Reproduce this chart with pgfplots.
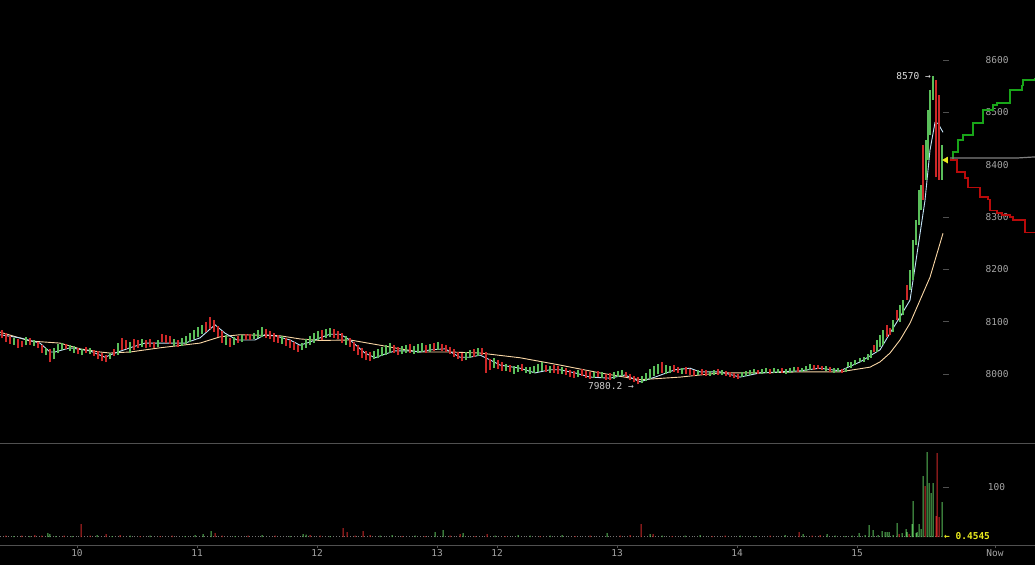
\documentclass[border=0pt]{standalone}
\usepackage{fontspec}
\setmainfont{DejaVu Sans Mono}
\usepackage{pgfplots}
\usepackage{pgfplotstable}
\pgfplotsset{compat=1.18}
\definecolor{cg}{RGB}{90,190,90}
\definecolor{cr}{RGB}{205,40,40}
\definecolor{mablue}{RGB}{195,228,248}
\definecolor{maorange}{RGB}{250,215,165}
\definecolor{dg}{RGB}{25,165,25}
\definecolor{dr}{RGB}{185,10,10}
\definecolor{axgray}{RGB}{80,80,80}
\definecolor{labgray}{RGB}{165,165,165}
\definecolor{yel}{RGB}{235,235,30}
\begin{document}
\pgfplotstableread{
x l h c
2 8068 8085 0
6 8062 8078 0
10 8058 8072 0
14 8055 8068 1
18 8050 8066 0
22 8052 8063 0
26 8055 8070 1
30 8056 8068 0
34 8054 8064 1
38 8050 8062 0
42 8040 8055 0
46 8036 8050 1
50 8022 8048 0
54 8028 8050 1
58 8040 8057 1
62 8045 8060 1
66 8047 8058 0
70 8044 8056 1
74 8040 8054 1
78 8038 8050 0
82 8036 8048 1
86 8040 8052 0
90 8038 8050 1
94 8034 8046 0
98 8028 8044 0
102 8024 8040 0
106 8022 8036 0
110 8028 8040 1
114 8035 8048 0
118 8036 8060 1
122 8045 8068 0
126 8048 8065 0
130 8040 8062 1
134 8046 8066 0
138 8050 8064 0
142 8052 8066 1
146 8050 8064 0
150 8052 8066 0
154 8050 8062 0
158 8052 8064 1
162 8062 8076 0
166 8060 8074 0
170 8058 8072 0
174 8054 8066 1
178 8052 8064 0
182 8054 8068 1
186 8058 8072 1
190 8062 8078 1
194 8066 8084 1
198 8070 8090 1
202 8076 8094 1
206 8080 8100 0
210 8086 8108 0
214 8080 8104 0
218 8070 8092 0
222 8060 8082 0
226 8056 8074 1
230 8052 8068 0
234 8056 8070 1
238 8060 8072 0
242 8062 8074 1
246 8064 8076 0
250 8064 8076 0
254 8066 8078 1
258 8068 8084 1
262 8070 8090 1
266 8068 8086 0
270 8066 8082 0
274 8062 8078 0
278 8060 8074 0
282 8058 8072 1
286 8054 8068 0
290 8050 8064 0
294 8046 8062 0
298 8042 8056 0
302 8046 8060 1
306 8050 8066 1
310 8056 8072 1
314 8060 8078 1
318 8064 8082 1
322 8064 8084 0
326 8068 8086 1
330 8070 8088 1
334 8068 8086 0
338 8066 8082 0
342 8060 8078 0
346 8056 8072 1
350 8052 8068 0
354 8044 8062 0
358 8036 8056 0
362 8030 8050 0
366 8026 8044 0
370 8024 8042 0
374 8028 8044 1
378 8030 8048 1
382 8034 8052 1
386 8036 8056 1
390 8040 8060 1
394 8040 8056 0
398 8036 8052 0
402 8038 8054 1
406 8040 8056 1
410 8040 8058 0
414 8038 8054 1
418 8040 8058 1
422 8042 8060 1
426 8040 8056 0
430 8042 8058 1
434 8044 8060 0
438 8046 8062 1
442 8044 8058 0
446 8042 8056 0
450 8038 8052 0
454 8032 8048 0
458 8028 8042 0
462 8024 8040 0
466 8026 8042 1
470 8030 8046 1
474 8032 8048 0
478 8034 8050 1
482 8036 8050 0
486 8002 8042 0
490 8008 8028 0
494 8012 8030 1
498 8010 8026 0
502 8006 8022 0
506 8006 8020 1
510 8004 8018 0
514 8000 8016 1
518 8004 8018 1
522 8006 8020 0
526 8002 8014 1
530 8000 8014 1
534 8002 8016 1
538 8004 8020 1
542 8006 8022 1
546 8004 8018 0
550 8002 8016 1
554 8002 8018 0
558 8000 8016 0
562 8000 8014 1
566 7998 8012 0
570 7994 8008 0
574 7992 8006 0
578 7994 8008 1
582 7996 8010 0
586 7992 8006 0
590 7990 8004 0
594 7992 8004 1
598 7994 8006 0
602 7992 8004 1
606 7988 8000 0
610 7988 8002 0
614 7990 8004 1
618 7994 8006 1
622 7996 8008 1
626 7994 8004 0
630 7988 8000 0
634 7984 7996 0
638 7980 7994 0
642 7982 7996 1
646 7986 8002 1
650 7990 8010 1
654 7996 8016 1
658 8000 8020 1
662 8002 8022 0
666 8000 8018 1
670 8002 8016 1
674 8004 8018 0
678 8002 8014 0
682 8000 8012 1
686 8000 8014 0
690 7998 8010 0
694 7996 8008 0
698 7998 8008 1
702 7998 8010 0
706 7996 8008 0
710 7996 8006 1
714 7998 8008 1
718 7998 8010 0
722 7998 8008 1
726 7996 8006 0
730 7994 8004 0
734 7992 8002 0
738 7990 8000 0
742 7994 8004 1
746 7996 8006 1
750 7998 8008 1
754 8000 8010 1
758 8000 8008 0
762 8000 8010 1
766 8002 8012 1
770 8000 8010 0
774 8002 8012 1
778 8002 8010 1
782 8002 8012 0
786 8000 8010 1
790 8002 8012 1
794 8004 8014 1
798 8004 8014 0
802 8004 8012 1
806 8006 8016 1
810 8008 8020 1
814 8008 8018 0
818 8010 8018 0
822 8008 8016 0
826 8006 8016 1
830 8004 8014 0
834 8002 8012 1
838 8004 8012 1
842 8002 8010 0
846 8004 8012 1
848 8013 8023 1
851 8011 8023 1
855 8017 8027 1
860 8023 8031 1
864 8023 8032 1
868 8027 8038 1
871 8031 8046 1
874 8042 8055 0
877 8042 8065 1
880 8052 8075 1
883 8055 8084 1
887 8071 8094 0
890 8075 8088 0
893 8080 8103 1
897 8103 8122 0
900 8099 8132 1
903 8113 8141 1
907 8141 8170 0
910 8161 8199 1
913 8180 8256 1
916 8247 8294 1
919 8285 8352 1
921 8313 8361 1
923 8333 8438 0
926 8371 8447 1
928 8409 8505 1
930 8457 8543 1
933 8524 8570 1
936 8376 8562 0
939 8371 8533 0
942 8371 8438 1
}\candles
\pgfplotstableread{
x v c
6 3 0
14 2 1
22 3 0
30 2 1
35 4 0
42 3 0
48 8 1
50 6 1
56 2 1
64 3 0
72 2 1
81 26 0
90 3 0
97 4 1
106 6 0
112 2 1
120 4 0
130 3 1
140 2 0
150 3 1
160 2 0
172 3 0
185 2 1
195 4 1
203 6 1
211 12 1
215 8 0
222 3 0
235 2 1
248 3 0
262 4 1
275 3 0
290 2 1
303 6 1
306 5 1
310 4 0
320 3 0
330 2 1
343 18 0
347 10 0
355 3 0
363 12 0
370 4 0
380 3 1
392 4 1
402 2 0
415 3 1
425 2 0
435 10 1
443 14 1
450 3 0
460 6 0
463 8 1
475 2 0
487 6 0
495 3 1
505 2 0
518 4 1
530 3 1
540 2 0
550 3 1
562 4 1
575 2 0
590 3 0
607 8 1
620 3 0
630 4 0
641 26 0
650 6 1
653 6 0
662 3 1
672 2 0
685 3 1
700 4 1
712 2 0
725 3 0
740 3 1
755 2 1
770 3 0
785 4 1
799 10 0
803 6 1
812 3 0
820 4 0
827 6 1
835 3 1
845 2 1
852 3 1
859 8 1
865 4 1
869 24 1
873 14 1
878 4 1
882 12 1
885 10 1
887 10 1
889 10 1
893 4 1
897 28 1
899 6 0
902 8 1
906 16 1
907 10 1
909 6 0
912 26 1
913 72 1
916 8 1
917 10 1
919 26 1
921 16 1
923 122 1
925 102 0
927 170 1
929 108 1
931 88 1
933 108 1
936 42 0
937 168 0
939 40 0
942 70 1
}\vol
\begin{tikzpicture}
\useasboundingbox (0,0) rectangle (1035pt,565pt);
\fill[black] (0,0) rectangle (1035pt,565pt);
\pgfplotsset{
  common/.style={
    scale only axis, width=1035pt, xmin=0, xmax=1035,
    axis x line=bottom, axis y line=right,
    x axis line style={-, draw=axgray, line width=0.8pt},
    y axis line style={draw=none},
    ytick style={draw=none},
    yticklabel style={anchor=center, xshift=-40pt, text=labgray, font=\fontsize{9.5}{11}\selectfont},
    xticklabel style={text=labgray, font=\fontsize{9.5}{11}\selectfont, yshift=2pt},
    /pgf/number format/assume math mode=true,
    /pgf/number format/1000 sep={},
    scaled y ticks=false,
  }
}
\begin{axis}[common, at={(0pt,122pt)}, anchor=south west, height=443pt,
  ymin=7868, ymax=8715, xtick=\empty, ytick={8000,8100,8200,8300,8400,8500,8600}]
\addplot[only marks, mark=-, mark size=3pt, mark options={draw=axgray, line width=0.8pt}]
  coordinates {(946,8000)(946,8100)(946,8200)(946,8300)(946,8500)(946,8600)};
\addplot[maorange, line width=0.9pt] coordinates {
(0,8080)(30,8063)(60,8059)(80,8048)(100,8042)(110,8040)(130,8042)(160,8050)(200,8059)
(220,8071)(240,8075)(280,8073)(300,8067)(320,8064)(350,8065)(380,8055)(400,8048)
(420,8042)(450,8042)(480,8040)(520,8031)(560,8017)(600,8002)(640,7989)(680,7994)
(720,8002)(760,8002)(800,8004)(840,8004)(870,8013)(880,8023)(890,8040)(900,8065)
(910,8097)(920,8141)(930,8185)(943,8269)};
\addplot[mablue, line width=0.9pt] coordinates {
(0,8075)(20,8069)(40,8059)(50,8042)(55,8042)(70,8050)(90,8044)(105,8032)(115,8040)
(130,8050)(145,8059)(160,8059)(185,8059)(200,8069)(215,8094)(225,8078)(237,8065)
(255,8065)(265,8075)(275,8073)(290,8065)(300,8055)(310,8061)(320,8069)(330,8076)
(340,8076)(350,8065)(365,8040)(375,8031)(385,8038)(395,8044)(410,8044)(420,8042)
(430,8046)(445,8048)(460,8032)(470,8032)(480,8036)(490,8027)(500,8017)(520,8011)
(535,8002)(550,8008)(560,8008)(575,8002)(590,7994)(610,7992)(625,7998)(640,7985)
(655,7994)(675,8008)(690,8011)(700,8004)(720,8004)(740,7994)(760,8002)(780,8004)
(800,8006)(820,8011)(840,8006)(860,8023)(880,8046)(890,8078)(900,8109)(910,8141)
(915,8204)(925,8332)(930,8428)(935,8481)(938,8479)(943,8462)};
\addplot[draw=none, restrict expr to domain={\thisrow{c}}{1:1},
  error bars/.cd, y dir=plus, y explicit, error mark=none,
  error bar style={draw=cg, solid, line width=1.15pt}]
  table[x=x, y=l, y error expr=\thisrow{h}-\thisrow{l}] \candles;
\addplot[draw=none, restrict expr to domain={\thisrow{c}}{0:0},
  error bars/.cd, y dir=plus, y explicit, error mark=none,
  error bar style={draw=cr, solid, line width=1.15pt}]
  table[x=x, y=l, y error expr=\thisrow{h}-\thisrow{l}] \candles;
\addplot[dg, line width=1.4pt, const plot] coordinates {
(950,8409)(953,8424)(958,8447)(963,8457)(973,8480)(983,8505)(993,8514)(997,8518)
(1010,8543)(1022,8552)(1023,8562)(1035,8566)};
\addplot[dr, line width=1.4pt, const plot] coordinates {
(950,8409)(957,8386)(965,8375)(968,8357)(980,8338)(988,8333)(990,8313)(997,8308)
(1002,8304)(1010,8300)(1013,8294)(1025,8271)(1035,8269)};
\addplot[gray, line width=1.2pt] coordinates {(950,8413)(1018,8413)(1035,8415)};
\addplot[only marks, mark=triangle*, mark size=3.5pt, mark options={rotate=90, fill=yel, draw=yel}]
  coordinates {(946,8409)};
\node[anchor=east, text=white!88!black, font=\fontsize{9.5}{11}\selectfont, inner sep=1pt]
  at (axis cs:932,8570) {8570 →};
\node[anchor=east, text=white!80!black, font=\fontsize{9.5}{11}\selectfont, inner sep=1pt]
  at (axis cs:635,7977) {7980.2 →};
\end{axis}
\begin{axis}[common, at={(0pt,20pt)}, anchor=south west, height=102pt,
  ymin=-16, ymax=188, ytick={100},
  xtick={77,197,317,437,497,617,737,857,995},
  xticklabels={10,11,12,13,12,13,14,15,Now},
  xtick align=outside, major tick length=3pt,
  xtick style={draw=axgray, line width=0.8pt}]
\addplot[only marks, mark=-, mark size=3pt, mark options={draw=axgray, line width=0.8pt}]
  coordinates {(946,100)};
\addplot[labgray!70!black, dotted, line width=0.8pt] coordinates {(0,1)(942,1)};
\addplot[ybar, bar width=1pt, bar shift=0pt, fill=cg, draw=none,
  restrict expr to domain={\thisrow{c}}{1:1}] table[x=x, y=v] \vol;
\addplot[ybar, bar width=1pt, bar shift=0pt, fill=cr, draw=none,
  restrict expr to domain={\thisrow{c}}{0:0}] table[x=x, y=v] \vol;
\node[anchor=west, text=yel, font=\bfseries\fontsize{9.5}{11}\selectfont, inner sep=1pt]
  at (axis cs:943,1) {← 0.4545};
\end{axis}
\end{tikzpicture}
\end{document}
